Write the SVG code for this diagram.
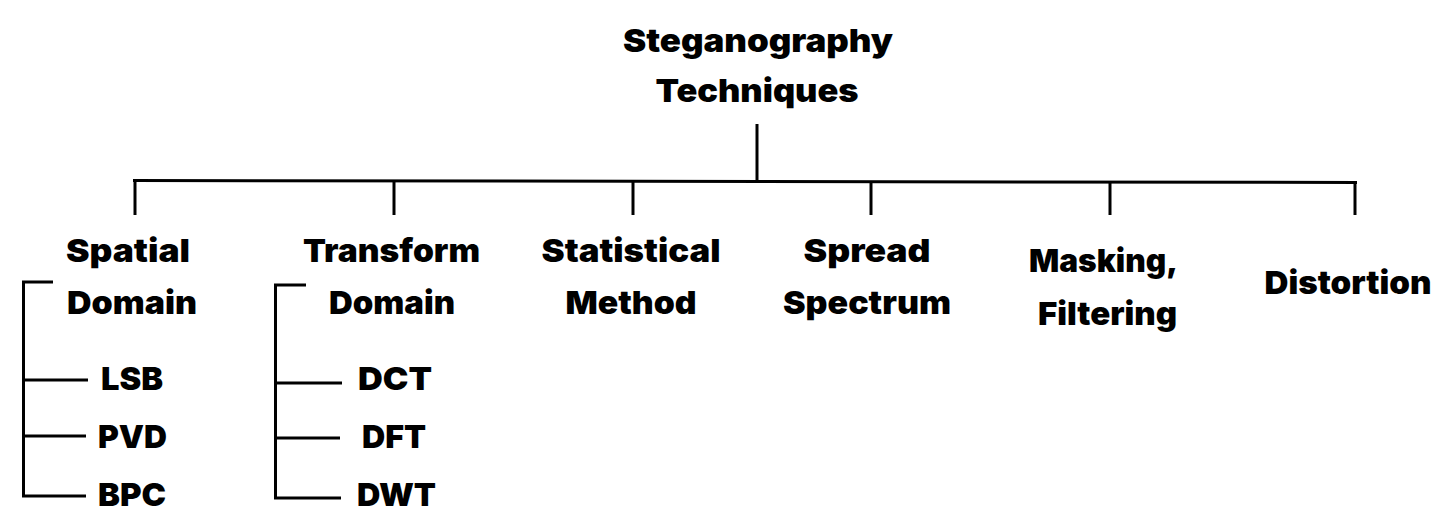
<svg xmlns="http://www.w3.org/2000/svg" width="1445" height="530" viewBox="0 0 1445 530">
<style>
  text { font-family: Inter, "Liberation Sans", sans-serif; font-weight: 900; font-size: 32px; fill: #000; }
  .c { text-anchor: middle; }
  .s { text-anchor: start; }
  line, polyline { stroke: #000; stroke-width: 3; fill: none; }
</style>
<rect width="1445" height="530" fill="#fff"/>
<g id="connectors">
  <line x1="757" y1="124" x2="757" y2="182"/>
  <line x1="133" y1="180.5" x2="1357" y2="182.5"/>
  <line x1="135" y1="181" x2="135" y2="215"/>
  <line x1="394" y1="181" x2="394" y2="215"/>
  <line x1="633" y1="181.5" x2="633" y2="215"/>
  <line x1="871" y1="182" x2="871" y2="215"/>
  <line x1="1110" y1="182" x2="1110" y2="215"/>
  <line x1="1355" y1="182.5" x2="1355" y2="215"/>
  <polyline points="53,282 23.5,282 23.5,496 86,496"/>
  <line x1="23.5" y1="380" x2="88" y2="380"/>
  <line x1="23.5" y1="436" x2="86" y2="436"/>
  <polyline points="306,285 275.5,285 275.5,498 341,498"/>
  <line x1="275.5" y1="383" x2="342" y2="383"/>
  <line x1="275.5" y1="438" x2="340" y2="438"/>
</g>
<g id="root">
  <text class="c" x="758" y="52" textLength="270" lengthAdjust="spacingAndGlyphs">Steganography</text>
  <text class="c" x="757" y="102" textLength="203" lengthAdjust="spacingAndGlyphs">Techniques</text>
</g>
<g id="spatial">
  <text class="c" x="128" y="262" textLength="124" lengthAdjust="spacingAndGlyphs">Spatial</text>
  <text class="c" x="132" y="314" textLength="130" lengthAdjust="spacingAndGlyphs">Domain</text>
</g>
<g id="lsb"><text class="s" x="101" y="390" textLength="62" lengthAdjust="spacingAndGlyphs">LSB</text></g>
<g id="pvd"><text class="s" x="98" y="448" textLength="69" lengthAdjust="spacingAndGlyphs">PVD</text></g>
<g id="bpc"><text class="s" x="98" y="506" textLength="68" lengthAdjust="spacingAndGlyphs">BPC</text></g>
<g id="transform">
  <text class="c" x="391.5" y="262" textLength="177" lengthAdjust="spacingAndGlyphs">Transform</text>
  <text class="c" x="392" y="314" textLength="126" lengthAdjust="spacingAndGlyphs">Domain</text>
</g>
<g id="dct"><text class="s" x="358" y="390" textLength="74" lengthAdjust="spacingAndGlyphs">DCT</text></g>
<g id="dft"><text class="s" x="362" y="448" textLength="64" lengthAdjust="spacingAndGlyphs">DFT</text></g>
<g id="dwt"><text class="s" x="357" y="506" textLength="79" lengthAdjust="spacingAndGlyphs">DWT</text></g>
<g id="statistical">
  <text class="c" x="631" y="262" textLength="179" lengthAdjust="spacingAndGlyphs">Statistical</text>
  <text class="c" x="631" y="314" textLength="131" lengthAdjust="spacingAndGlyphs">Method</text>
</g>
<g id="spread">
  <text class="c" x="867" y="262" textLength="127" lengthAdjust="spacingAndGlyphs">Spread</text>
  <text class="c" x="867" y="314" textLength="168" lengthAdjust="spacingAndGlyphs">Spectrum</text>
</g>
<g id="masking">
  <text class="c" x="1103.5" y="272" textLength="149" lengthAdjust="spacingAndGlyphs">Masking,</text>
  <text class="c" x="1107.5" y="325" textLength="139" lengthAdjust="spacingAndGlyphs">Filtering</text>
</g>
<g id="distortion">
  <text class="c" x="1348" y="294" textLength="167" lengthAdjust="spacingAndGlyphs">Distortion</text>
</g>
</svg>
